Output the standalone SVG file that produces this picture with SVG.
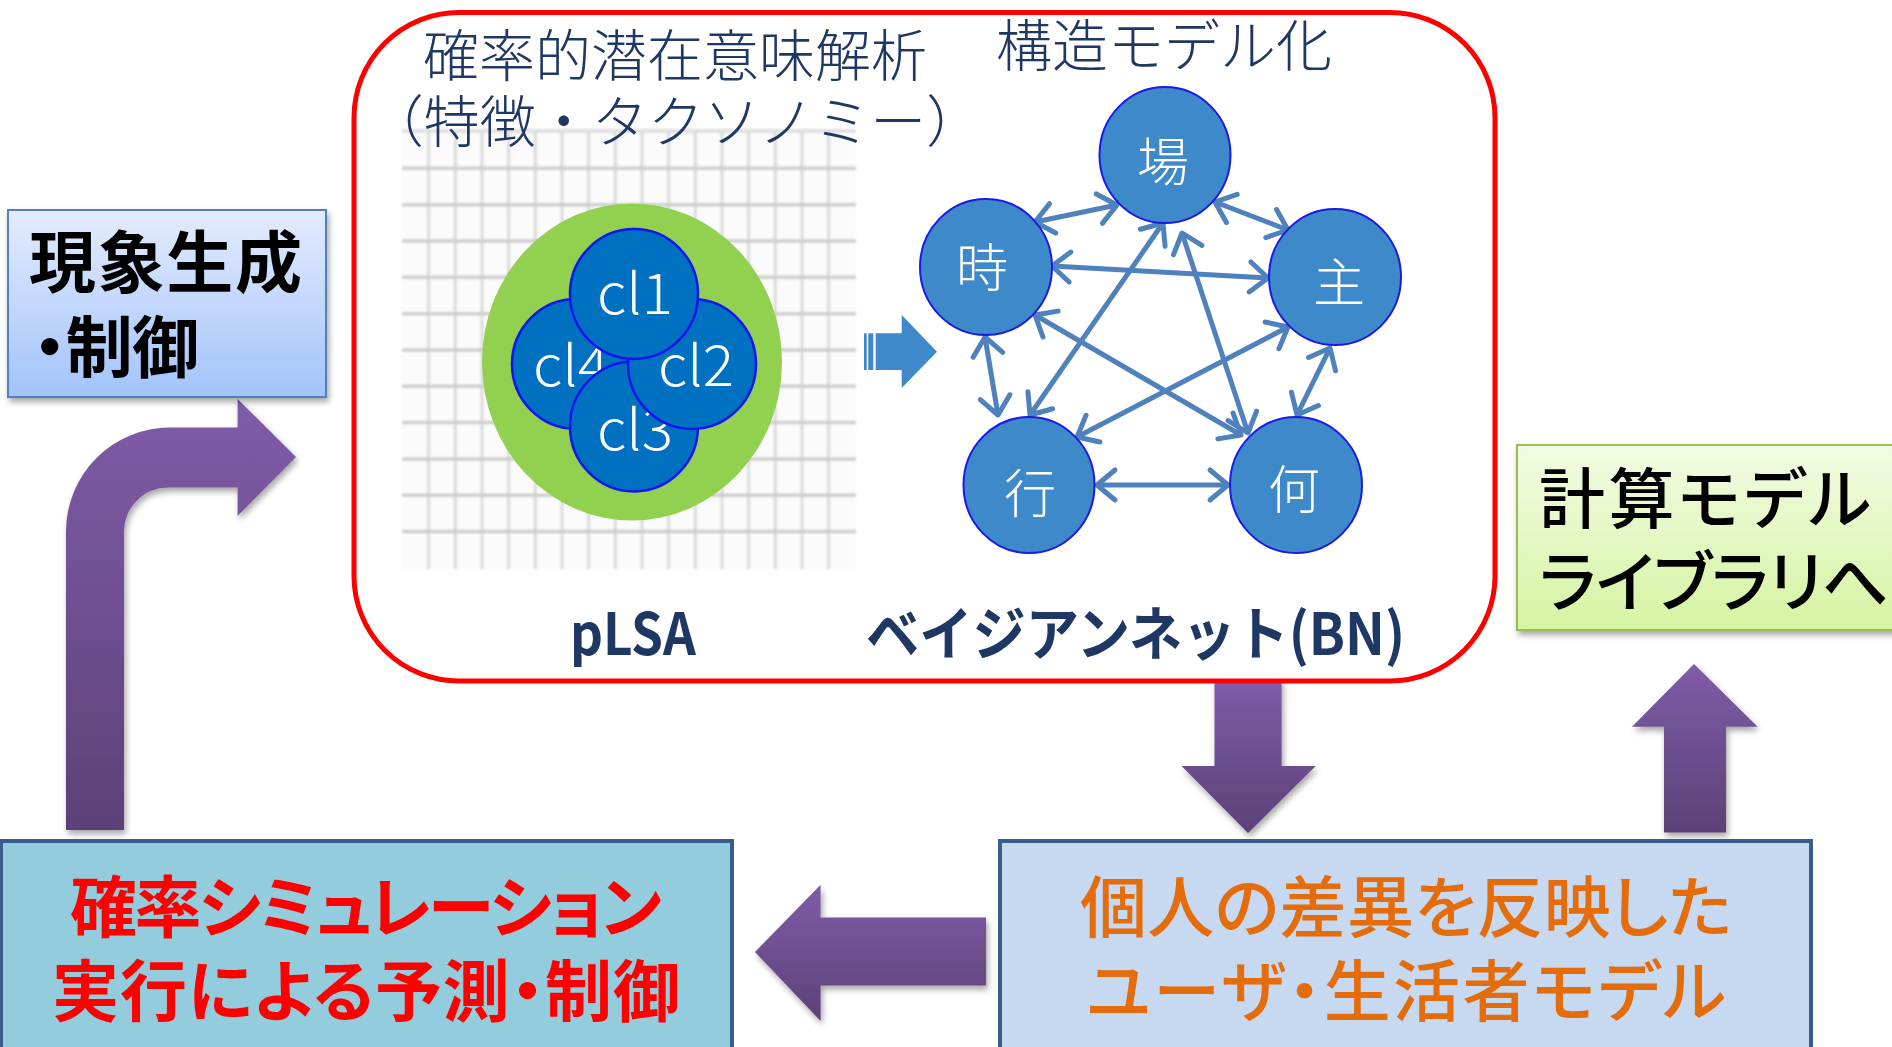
<svg xmlns="http://www.w3.org/2000/svg" width="1892" height="1047" viewBox="0 0 1892 1047">
<style>
.jp{font-family:"Noto Sans CJK JP","Noto Sans CJK SC",sans-serif}
.palt{font-feature-settings:"palt"}
.title{font-size:56px;font-weight:300;fill:#1f3763}
.lbl{font-size:58px;font-weight:700;fill:#1f3763}
.cl{font-family:"Noto Sans CJK JP","Noto Sans",sans-serif;font-size:56px;font-weight:300;fill:#fff;text-anchor:middle}
.clu{fill:#0070c0;stroke:#1414f0;stroke-width:2.5}
.bn{fill:#3d89c9;stroke:#1a1ae8;stroke-width:2}
.bnt{font-size:52px;font-weight:300;fill:#fff;text-anchor:middle}
.edge{fill:none;stroke:#4f81bd;stroke-width:5;marker-start:url(#ah);marker-end:url(#ah)}
.purple{fill:url(#pg);filter:url(#sh)}
.gv{stroke:#d9d9d9;stroke-width:3}
.gh{stroke:#cdcdcd;stroke-width:3.5}
</style>
<defs>
<linearGradient id="pg" x1="0" y1="0" x2="0" y2="1">
<stop offset="0" stop-color="#7f5ca8"/>
<stop offset="1" stop-color="#5c4177"/>
</linearGradient>
<linearGradient id="bluebox" x1="0" y1="0" x2="0" y2="1">
<stop offset="0" stop-color="#e3ecfe"/>
<stop offset="1" stop-color="#a2c3fa"/>
</linearGradient>
<linearGradient id="greenbox" x1="0" y1="0" x2="0" y2="1">
<stop offset="0" stop-color="#f2fbe3"/>
<stop offset="1" stop-color="#d5f4a2"/>
</linearGradient>
<filter id="sh" x="-20%" y="-20%" width="140%" height="140%">
<feDropShadow dx="2" dy="4" stdDeviation="3" flood-color="#000" flood-opacity="0.35"/>
</filter>
<filter id="blur" x="-5%" y="-5%" width="110%" height="110%">
<feGaussianBlur stdDeviation="0.8"/>
</filter>
<marker id="ah" markerUnits="userSpaceOnUse" orient="auto-start-reverse" refX="0" refY="0" markerWidth="1" markerHeight="1" overflow="visible">
<path d="M-18,-15 L0,0 L-18,15" fill="none" stroke="#4f81bd" stroke-width="5" stroke-linecap="round" stroke-linejoin="round"/>
</marker>
</defs>
<rect width="1892" height="1047" fill="#fff"/>

<g id="connectors">
<path id="arrow-loop" class="purple" d="M66 830 L66 531.5 A104 104 0 0 1 170 427.5 L237.6 427.5 L237.6 399 L296 457 L237.6 516 L237.6 487.5 L168 487.5 A44 44 0 0 0 124 531.5 L124 830 Z"/>
<path id="arrow-down" class="purple" d="M1214.5 678 L1281.6 678 L1281.6 766 L1315.8 766 L1248 833 L1181.6 766 L1214.5 766 Z"/>
<path id="arrow-up" class="purple" d="M1694 664 L1757.6 726.7 L1726 726.7 L1726 832.6 L1664 832.6 L1664 726.7 L1632 726.7 Z"/>
<path id="arrow-left" class="purple" d="M755 952 L820.6 884.7 L820.6 917.6 L986 917.6 L986 985.5 L820.6 985.5 L820.6 1021 Z"/>
</g>

<g id="analysis-panel">
<rect x="354" y="12.5" width="1141" height="668.5" rx="105" ry="105" fill="#fff"/>
<g id="grid" filter="url(#blur)">
<rect x="402" y="129" width="454" height="440" fill="#fbfbfb"/>
<rect x="402" y="129" width="454" height="4" fill="#e0e0e0"/>
<g class="gv">
<line x1="428.6" y1="131" x2="428.6" y2="569"/><line x1="455.3" y1="131" x2="455.3" y2="569"/><line x1="482" y1="131" x2="482" y2="569"/><line x1="508.6" y1="131" x2="508.6" y2="569"/><line x1="535.3" y1="131" x2="535.3" y2="569"/><line x1="562" y1="131" x2="562" y2="569"/><line x1="588.6" y1="131" x2="588.6" y2="569"/><line x1="615.3" y1="131" x2="615.3" y2="569"/><line x1="642" y1="131" x2="642" y2="569"/><line x1="668.6" y1="131" x2="668.6" y2="569"/><line x1="695.3" y1="131" x2="695.3" y2="569"/><line x1="722" y1="131" x2="722" y2="569"/><line x1="748.6" y1="131" x2="748.6" y2="569"/><line x1="775.3" y1="131" x2="775.3" y2="569"/><line x1="802" y1="131" x2="802" y2="569"/><line x1="828.6" y1="131" x2="828.6" y2="569"/>
</g>
<g class="gh">
<line x1="402" y1="168.3" x2="856" y2="168.3"/><line x1="402" y1="204.7" x2="856" y2="204.7"/><line x1="402" y1="241" x2="856" y2="241"/><line x1="402" y1="277.3" x2="856" y2="277.3"/><line x1="402" y1="313.7" x2="856" y2="313.7"/><line x1="402" y1="350" x2="856" y2="350"/><line x1="402" y1="386.3" x2="856" y2="386.3"/><line x1="402" y1="422.6" x2="856" y2="422.6"/><line x1="402" y1="459" x2="856" y2="459"/><line x1="402" y1="495.3" x2="856" y2="495.3"/><line x1="402" y1="531.6" x2="856" y2="531.6"/>
</g>
</g>
<text class="jp title" x="675" y="76" text-anchor="middle">確率的潜在意味解析</text>
<text class="jp title" x="675" y="142" text-anchor="middle">（特徴・タクソノミー）</text>
<text class="jp title" x="1164" y="66" text-anchor="middle">構造モデル化</text>
<text class="jp lbl" x="570" y="655" textLength="126" lengthAdjust="spacingAndGlyphs">pLSA</text>
<text class="jp lbl" x="866" y="655" textLength="539" lengthAdjust="spacingAndGlyphs">ベイジアンネット(BN)</text>
<rect x="354" y="12.5" width="1141" height="668.5" rx="105" ry="105" fill="none" stroke="#ff0000" stroke-width="5"/>
</g>

<g id="plsa-clusters">
<ellipse cx="632" cy="362" rx="150" ry="158.5" fill="#92d050"/>
<g id="cl4"><ellipse class="clu" cx="576" cy="364" rx="64" ry="65"/><text class="cl" x="571" y="386" textLength="76" lengthAdjust="spacingAndGlyphs">cl4</text></g>
<g id="cl3"><ellipse class="clu" cx="634" cy="426.5" rx="64" ry="65"/><text class="cl" x="635" y="450" textLength="76" lengthAdjust="spacingAndGlyphs">cl3</text></g>
<g id="cl2"><ellipse class="clu" cx="692" cy="364" rx="64" ry="65"/><text class="cl" x="696" y="386" textLength="76" lengthAdjust="spacingAndGlyphs">cl2</text></g>
<g id="cl1"><ellipse class="clu" cx="634" cy="294" rx="64" ry="65"/><text class="cl" x="635" y="314" textLength="76" lengthAdjust="spacingAndGlyphs">cl1</text></g>
</g>

<g id="transform-arrow" fill="#3d89c9">
<rect x="864" y="333.3" width="2.7" height="36.7"/>
<rect x="868.3" y="333.3" width="5" height="36.7"/>
<path d="M875.7 333.3 L901.7 333.3 L901.7 315 L937 351.7 L901.7 388 L901.7 370 L875.7 370 Z"/>
</g>

<g id="bn-edges">
<line class="edge" x1="1035" y1="222" x2="1117" y2="205"/>
<line class="edge" x1="1215" y1="202" x2="1288" y2="230"/>
<line class="edge" x1="1052" y1="266" x2="1268" y2="278"/>
<line class="edge" x1="985" y1="337" x2="998" y2="415"/>
<line class="edge" x1="1330" y1="348" x2="1297" y2="415"/>
<line class="edge" x1="1097" y1="485" x2="1228" y2="485"/>
<line class="edge" x1="1163" y1="223" x2="1030" y2="415"/>
<line class="edge" x1="1182" y1="233" x2="1248" y2="433"/>
<line class="edge" x1="1035" y1="315" x2="1241" y2="435"/>
<line class="edge" x1="1288" y1="327" x2="1077" y2="437"/>
</g>

<g id="node-ba"><ellipse class="bn" cx="1165" cy="155" rx="65.5" ry="68"/><text class="jp bnt" x="1163" y="181">場</text></g>
<g id="node-toki"><ellipse class="bn" cx="986" cy="267" rx="66" ry="68"/><text class="jp bnt" x="982" y="287">時</text></g>
<g id="node-shu"><ellipse class="bn" cx="1335" cy="277" rx="66" ry="68"/><text class="jp bnt" x="1339" y="302">主</text></g>
<g id="node-gyo"><ellipse class="bn" cx="1029" cy="485" rx="65.5" ry="68"/><text class="jp bnt" x="1030" y="513">行</text></g>
<g id="node-nani"><ellipse class="bn" cx="1296" cy="485" rx="66" ry="68"/><text class="jp bnt" x="1294" y="509">何</text></g>

<g id="box-generate">
<rect x="8" y="210" width="318" height="187" fill="url(#bluebox)" stroke="#4f81bd" stroke-width="2" filter="url(#sh)"/>
<text class="jp" x="29" y="287" font-size="67" font-weight="700" fill="#000" textLength="273" lengthAdjust="spacing">現象生成</text>
<text class="jp palt" x="33" y="372" font-size="67" font-weight="700" fill="#000" textLength="166" lengthAdjust="spacing">・制御</text>
</g>

<g id="box-library">
<rect x="1517" y="445" width="400" height="185" fill="url(#greenbox)" stroke="#9bbb59" stroke-width="2" filter="url(#sh)"/>
<text class="jp palt" x="1539" y="523" font-size="66" font-weight="500" fill="#000" textLength="332" lengthAdjust="spacing">計算モデル</text>
<text class="jp palt" x="1539" y="606" font-size="66" font-weight="500" fill="#000" textLength="350" lengthAdjust="spacing">ライブラリへ</text>
</g>

<g id="box-simulation">
<rect x="1" y="841" width="731" height="240" fill="#93cddd" stroke="#385d8a" stroke-width="4"/>
<text class="jp palt" x="366" y="932" font-size="67" font-weight="700" fill="#ff0000" text-anchor="middle" textLength="592" lengthAdjust="spacing">確率シミュレーション</text>
<text class="jp palt" x="366" y="1016" font-size="67" font-weight="700" fill="#ff0000" text-anchor="middle" textLength="628" lengthAdjust="spacing">実行による予測・制御</text>
</g>

<g id="box-user-model">
<rect x="1000" y="841" width="811" height="240" fill="#c6d9f1" stroke="#385d8a" stroke-width="4"/>
<text class="jp palt" x="1406" y="932" font-size="67" font-weight="500" fill="#e46c0a" text-anchor="middle" textLength="652" lengthAdjust="spacing">個人の差異を反映した</text>
<text class="jp palt" x="1406" y="1016" font-size="67" font-weight="500" fill="#e46c0a" text-anchor="middle" textLength="640" lengthAdjust="spacing">ユーザ・生活者モデル</text>
</g>
</svg>
